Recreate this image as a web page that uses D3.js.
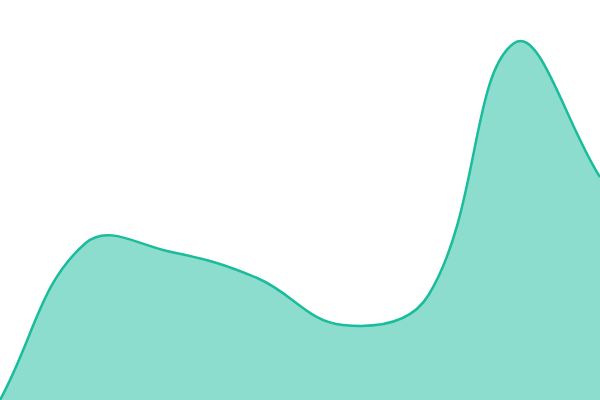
<!DOCTYPE html>
<html>
<head>
<meta charset="utf-8">
<script src="https://cdn.jsdelivr.net/npm/d3@7"></script>
<style>
	html, body { margin: 0; padding: 0; background: #fff; }
	svg { display: block; }
</style>
</head>
<body>
<svg id="chart"></svg>
<script>
	// Data
	let categories = ["A", "B", "C", "D", "E", "F", "G", "H"];
	let values = [0, 157, 148, 122, 75, 105, 357, 223];

	let width = 600;
	let height = 400;

	/**
	 * Tension spline: control points scaled by the distance to each neighbour
	 */
	function curveTension(tension) {
		return function(context) {
			return {
				_line: NaN,
				areaStart: function() { this._line = 0; },
				areaEnd: function() { this._line = NaN; },
				lineStart: function() { this._pts = []; },
				point: function(x, y) { this._pts.push([+x, +y]); },
				lineEnd: function() {
					let p = this._pts;
					let n = p.length;
					if (n) {
						if (this._line) context.lineTo(p[0][0], p[0][1]);
						else context.moveTo(p[0][0], p[0][1]);

						let cps = p.map(function(cur, i) {
							let prev = p[i - 1] || cur;
							let next = p[i + 1] || cur;
							let d01 = Math.hypot(cur[0] - prev[0], cur[1] - prev[1]);
							let d12 = Math.hypot(next[0] - cur[0], next[1] - cur[1]);
							let s01 = d01 / (d01 + d12) || 0;
							let s12 = d12 / (d01 + d12) || 0;
							let fa = tension * s01;
							let fb = tension * s12;
							return {
								prev: [cur[0] - fa * (next[0] - prev[0]), cur[1] - fa * (next[1] - prev[1])],
								next: [cur[0] + fb * (next[0] - prev[0]), cur[1] + fb * (next[1] - prev[1])]
							};
						});

						for (let i = 1; i < n; i++) {
							context.bezierCurveTo(
								cps[i - 1].next[0], cps[i - 1].next[1],
								cps[i].prev[0], cps[i].prev[1],
								p[i][0], p[i][1]);
						}
					}
					if (this._line || (this._line !== 0 && n === 1)) context.closePath();
					this._line = 1 - this._line;
				}
			};
		};
	}

	let svg = d3.select("#chart")
		.attr("width", width)
		.attr("height", height);

	// Scales
	let xScale = d3.scalePoint()
		.domain(categories)
		.range([0, width]);

	let yScale = d3.scaleLinear()
		.domain([0, 400])
		.range([height, 0]);

	let curve = curveTension(0.4);

	let area = d3.area()
		.x(function(d, i) { return xScale(categories[i]); })
		.y0(height)
		.y1(function(d) { return yScale(d); })
		.curve(curve);

	let line = d3.line()
		.x(function(d, i) { return xScale(categories[i]); })
		.y(function(d) { return yScale(d); })
		.curve(curve);

	svg.append("path")
		.datum(values)
		.attr("d", area)
		.attr("fill", "#1abc9c")
		.attr("fill-opacity", 0.5);

	svg.append("path")
		.datum(values)
		.attr("d", line)
		.attr("fill", "none")
		.attr("stroke", "#1abc9c")
		.attr("stroke-width", 2.5);
</script>
</body>
</html>
